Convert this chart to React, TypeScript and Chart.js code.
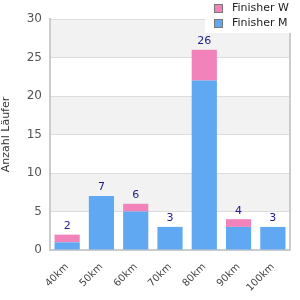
import React, { useEffect, useRef } from "react";
import { Chart, registerables } from "chart.js";
Chart.register(...registerables);

const categories = ["40km", "50km", "60km", "70km", "80km", "90km", "100km"];
const finisherM = [1, 7, 5, 3, 22, 3, 3];
const finisherW = [1, 0, 1, 0, 4, 1, 0];
const totals = [2, 7, 6, 3, 26, 4, 3];
const legendLabels = ["Finisher W", "Finisher M"];
const yTitle = "Anzahl Läufer";

const BLUE = "#60a8f2";
const PINK = "#f283ba";
const FONT = "'DejaVu Sans', sans-serif";

export default function App() {
  const ref = useRef<HTMLCanvasElement>(null);
  useEffect(() => {
    const bands = {
      id: "bands",
      beforeDraw(chart: any) {
        const { ctx, chartArea, scales } = chart;
        const y = scales.y;
        ctx.save();
        ctx.fillStyle = "#f2f2f2";
        for (let v = 5; v < 30; v += 10) {
          const t = y.getPixelForValue(v + 5);
          const b = y.getPixelForValue(v);
          ctx.fillRect(chartArea.left, t, chartArea.right - chartArea.left, b - t);
        }
        ctx.restore();
      },
    };
    const labels = {
      id: "labels",
      afterDatasetsDraw(chart: any) {
        const { ctx } = chart;
        const meta = chart.getDatasetMeta(0);
        const y = chart.scales.y;
        ctx.save();
        ctx.font = "11px " + FONT;
        ctx.fillStyle = "#1c1c8c";
        ctx.textAlign = "center";
        ctx.textBaseline = "bottom";
        totals.forEach((t, i) => {
          const x = meta.data[i].x;
          ctx.fillText(String(t), x, y.getPixelForValue(t) - 3);
        });
        ctx.restore();
      },
      afterDraw(chart: any) {
        const { ctx } = chart;
        ctx.save();
        ctx.fillStyle = "#ffffff";
        ctx.fillRect(205, 0, 95, 33);
        const cols = [PINK, BLUE];
        ctx.font = "11px " + FONT;
        ctx.textBaseline = "middle";
        ctx.textAlign = "left";
        legendLabels.forEach((l, i) => {
          const yy = 8.5 + i * 15;
          ctx.fillStyle = cols[i];
          ctx.fillRect(215, yy - 3.5, 7, 7);
          ctx.strokeStyle = "#777";
          ctx.lineWidth = 1;
          ctx.strokeRect(214.5, yy - 4, 8, 8);
          ctx.fillStyle = "#222";
          ctx.fillText(l, 232, yy);
        });
        ctx.restore();
      },
    };
    const chart = new Chart(ref.current!, {
      type: "bar",
      data: {
        labels: categories,
        datasets: [
          { label: legendLabels[1], data: finisherM, backgroundColor: BLUE, barPercentage: 0.735, categoryPercentage: 1 },
          { label: legendLabels[0], data: finisherW, backgroundColor: PINK, barPercentage: 0.735, categoryPercentage: 1 },
        ],
      },
      options: {
        responsive: false,
        animation: false,
        layout: { padding: { top: 19, right: 10, left: 0, bottom: 0 } },
        plugins: { legend: { display: false }, tooltip: { enabled: false } },
        scales: {
          x: {
            stacked: true,
            grid: { display: false },
            border: { color: "#cccccc", width: 2 },
            ticks: {
              color: "#444",
              font: { size: 10, family: FONT },
              maxRotation: 45,
              minRotation: 45,
              padding: 3,
            },
            afterFit(s: any) { s.height = 50; },
          },
          y: {
            stacked: true,
            min: 0,
            max: 30,
            grid: { color: "#dddddd", drawTicks: false },
            border: { color: "#cccccc", width: 2 },
            ticks: { stepSize: 5, color: "#555", font: { size: 12, family: FONT }, padding: 8 },
            title: { display: true, text: yTitle, color: "#333", font: { size: 11, family: FONT }, padding: 0 },
            afterFit(s: any) { s.width = 50; },
          },
        },
      },
      plugins: [bands, labels, {
        id: "rightBorder",
        afterDatasetsDraw(chart: any) {
          const { ctx, chartArea } = chart;
          ctx.save();
          ctx.strokeStyle = "#cccccc";
          ctx.lineWidth = 2;
          ctx.beginPath();
          ctx.moveTo(chartArea.right, chartArea.top);
          ctx.lineTo(chartArea.right, chartArea.bottom);
          ctx.stroke();
          ctx.restore();
        },
      }],
    });
    return () => chart.destroy();
  }, []);
  return (
    <div style={{ position: "fixed", left: 0, top: 0, width: 300, height: 300, background: "#fff" }}>
      <canvas ref={ref} width={300} height={300} />
    </div>
  );
}
